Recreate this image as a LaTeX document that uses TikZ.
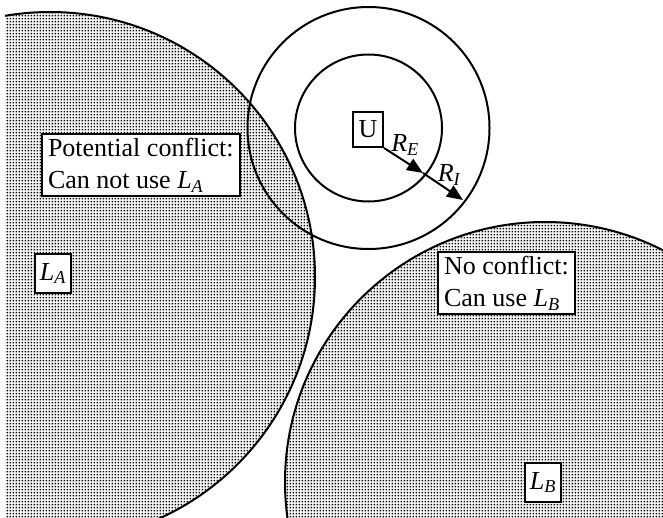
\documentclass[tikz,border=0pt]{standalone}
\usepackage{fontspec}
\setmainfont{Liberation Serif}
\usetikzlibrary{arrows.meta, patterns}
\pgfdeclarepatternformonly{points}{\pgfqpoint{0pt}{0pt}}{\pgfqpoint{3.3pt}{3.3pt}}{\pgfqpoint{3.3pt}{3.3pt}}{%
  \pgfpathrectangle{\pgfqpoint{0.8pt}{0.8pt}}{\pgfqpoint{1.7pt}{1.7pt}}\pgfusepath{fill}}
\tikzstyle{zone} = [draw, pattern=points, line width=2pt]
\tikzstyle{cercle} = [draw, line width=2pt]
\tikzstyle{boite} = [draw, fill=white, line width=2pt, align=left, font=\fontsize{26}{32}\selectfont, inner xsep=6pt, inner ysep=4pt]
\tikzstyle{petite} = [boite, inner sep=0pt, minimum width=36pt, minimum height=39pt]
\tikzstyle{rayon} = [-{Triangle[length=16pt,width=13pt]}, line width=2pt]
\tikzstyle{etiq} = [font=\fontsize{26}{28}\selectfont\itshape, inner sep=0pt]

\begin{document}
\begin{tikzpicture}[x=1pt,y=-1pt]
	\useasboundingbox (0,0) rectangle (663,517);

	% zones A et B
	\begin{scope}
		\clip (5,0) rectangle (663,517);
		\draw[zone] (50,277) circle (265);
		\draw[zone] (545,482) circle (260);
	\end{scope}

	% rayons autour de U
	\coordinate (c) at (368.5,128);
	\draw[cercle] (c) circle (73.5);
	\draw[cercle] (c) circle (121);

	\node[petite, minimum width=30pt, minimum height=35pt] (U) at (368,129.5) {U};
	\coordinate (e) at (423,173);
	\coordinate (i) at (463,200);
	\draw[rayon] (U.south east) -- (e);
	\draw[rayon] (e) -- (i);
	\node[etiq] (RE) at (405,145) {R\textsubscript{E}};
	\node[etiq] (RI) at (449,175) {R\textsubscript{I}};

	\node[boite, anchor=north west] (conflit) at (41,133) {Potential conflict:\\Can not use \textit{L\textsubscript{A}}};
	\node[boite, anchor=north west] (libre) at (437,251) {No conflict:\\Can use \textit{L\textsubscript{B}}};
	\node[petite, anchor=north west] (LA) at (34,253) {\textit{L\textsubscript{A}}};
	\node[petite, anchor=north west] (LB) at (524,462) {\textit{L\textsubscript{B}}};
\end{tikzpicture}
\end{document}
